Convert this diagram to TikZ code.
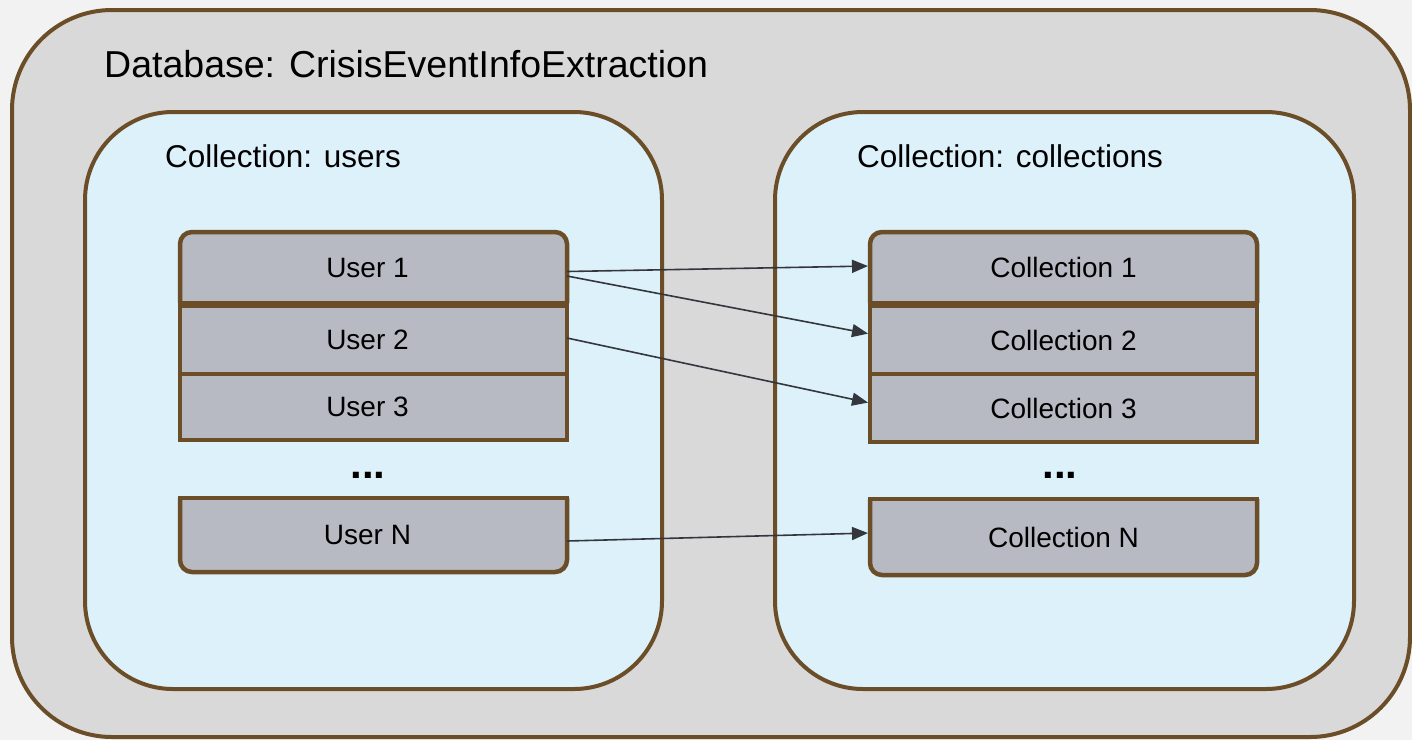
\documentclass[tikz,border=0pt]{standalone}
\usepackage{fontspec}
\setmainfont{Liberation Sans}
\usetikzlibrary{arrows.meta,backgrounds}
\definecolor{pagebg}{HTML}{F2F2F2}
\definecolor{dbfill}{HTML}{D9D9D9}
\definecolor{collfill}{HTML}{DDF1FA}
\definecolor{itemfill}{HTML}{B7BAC3}
\definecolor{edgec}{HTML}{6B4D27}
\definecolor{arrowc}{HTML}{33363D}
\tikzset{
 holder/.style={inner sep=0pt, outer sep=0pt, draw=none},
 itemnode/.style={holder, minimum width=387pt, font=\fontsize{28}{32}\selectfont},
 itembox/.style={draw=edgec, line width=4.5pt, fill=itemfill},
 itemline/.style={draw=edgec, line width=4.5pt, line cap=rect},
 contbox/.style={draw=edgec, line width=4pt, fill=collfill},
 dbbox/.style={draw=edgec, line width=4pt, fill=dbfill},
 link/.style={draw=arrowc, line width=1.6pt, shorten >=2pt, -{Triangle[length=16pt,width=13pt]}},
 titletext/.style={anchor=base west, inner sep=0pt, font=\fontsize{37.5}{40}\selectfont},
 headertext/.style={anchor=base west, inner sep=0pt, font=\fontsize{31.5}{34}\selectfont},
 dotstext/.style={anchor=base, inner sep=0pt, font=\fontsize{42}{44}\selectfont\bfseries},
}
\newcommand{\lefttext}[1]{\kern-6pt #1\kern6pt}
\begin{document}
\begin{tikzpicture}[x=1pt,y=-1pt]
\useasboundingbox (0,0) rectangle (1412,740);
% containers (names only)
\node[holder, minimum width=1398pt, minimum height=727pt] (db) at (711,373.5) {};
\node[holder, minimum width=577pt, minimum height=577pt] (cu) at (373.5,400.5) {};
\node[holder, minimum width=579pt, minimum height=577pt] (cc) at (1064.5,400.5) {};
% titles
\node[titletext] (dbt) at (104,77) {Database: CrisisEventInfoExtraction};
\node[headertext] (cut) at (165,167) {Collection: users};
\node[headertext] (cct) at (857,167) {Collection: collections};
% items
\node[itemnode, minimum height=71pt] (u1) at (373.5,267.5) {\lefttext{User 1}};
\node[itemnode, minimum height=68pt] (u2) at (373.5,340) {\lefttext{User 2}};
\node[itemnode, minimum height=66pt] (u3) at (373.5,407) {\lefttext{User 3}};
\node[itemnode, minimum height=74pt] (uN) at (373.5,535) {\lefttext{User N}};
\node[itemnode, minimum height=71pt] (c1) at (1063.5,267.5) {Collection 1};
\node[itemnode, minimum height=68pt] (c2) at (1063.5,340) {Collection 2};
\node[itemnode, minimum height=68pt] (c3) at (1063.5,408) {Collection 3};
\node[itemnode, minimum height=76pt] (cN) at (1063.5,537) {Collection N};
\node[dotstext] (ud) at (368,478) {...};
\node[dotstext] (cd) at (1060,478) {...};
% shapes behind
\begin{scope}[on background layer]
\fill[pagebg] (0,0) rectangle (1412,740);
\draw[dbbox, rounded corners=100pt] (db.north west) rectangle (db.south east);
\draw[contbox, rounded corners=88pt] (cu.north west) rectangle (cu.south east);
\draw[contbox, rounded corners=88pt] (cc.north west) rectangle (cc.south east);
\foreach \n in {u1,c1}{
  \draw[itembox, rounded corners=12pt] (\n.south west) -- (\n.north west) -- (\n.north east) -- (\n.south east);
  \draw[itemline] (\n.south west) -- (\n.south east);
}
\foreach \n in {u2,u3,c2,c3}{
  \draw[itembox] (\n.north west) rectangle (\n.south east);
}
\foreach \n in {uN,cN}{
  \draw[itembox, rounded corners=12pt] (\n.north west) -- (\n.south west) -- (\n.south east) -- (\n.north east);
  \draw[itemline] (\n.north west) -- (\n.north east);
}
\end{scope}
% connectors
\draw[link] ([yshift=-4pt]u1.east) -- ([yshift=1.5pt]c1.west);
\draw[link] ([yshift=-8.5pt]u1.east) -- ([yshift=6pt]c2.west);
\draw[link] ([yshift=2pt]u2.east) -- ([yshift=5pt]c3.west);
\draw[link] ([yshift=-6pt]uN.east) -- ([yshift=4pt]cN.west);
\end{tikzpicture}
\end{document}
